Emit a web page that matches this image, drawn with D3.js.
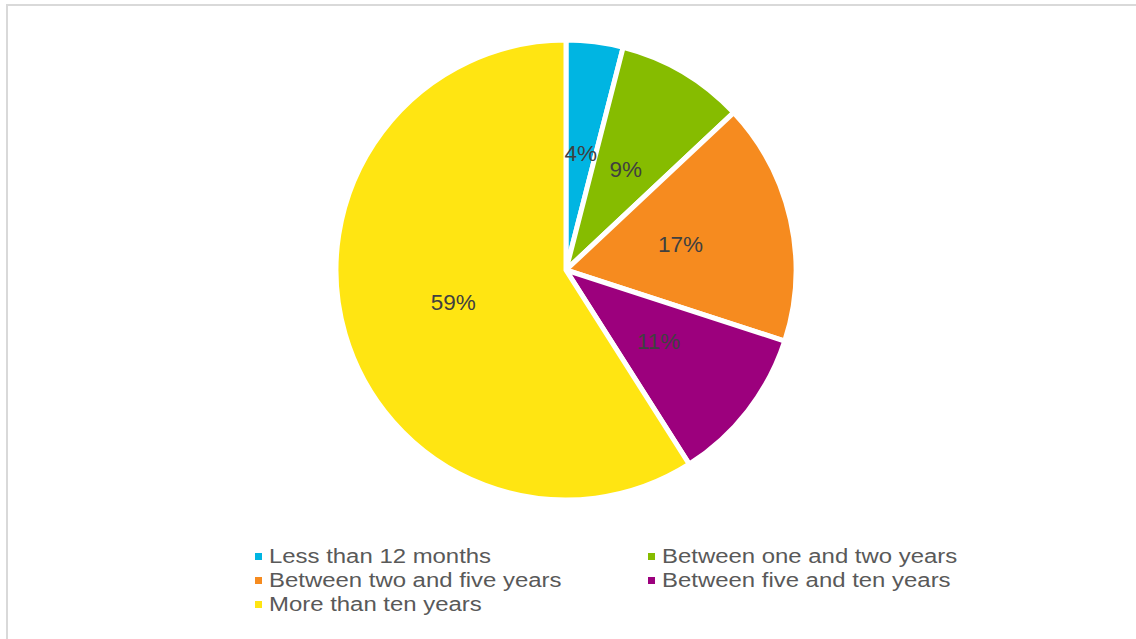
<!DOCTYPE html>
<html>
<head>
<meta charset="utf-8">
<script src="https://cdn.jsdelivr.net/npm/d3@7"></script>
<style>
  html, body { margin: 0; padding: 0; background: #fff; }
  svg { display: block; }
</style>
</head>
<body>
<svg id="chart" width="1136" height="639"></svg>
<script>
// Length of time categories and their shares (%)
const categories = [
  "Less than 12 months",
  "Between one and two years",
  "Between two and five years",
  "Between five and ten years",
  "More than ten years"
];
const values = [4, 9, 17, 11, 59];
const colors = ["#00b5e2", "#86bc00", "#f68b1f", "#9c007d", "#ffe512"];

const width = 1136, height = 639;
const svg = d3.select("#chart");

// Outer frame
svg.append("rect")
  .attr("x", 7).attr("y", 5)
  .attr("width", width).attr("height", height)
  .attr("fill", "none")
  .attr("stroke", "#d9d9d9")
  .attr("stroke-width", 2);

const cx = 566, cy = 270, r = 230;
const data = categories.map((c, i) => ({ cat: c, value: values[i], color: colors[i] }));

const pie = d3.pie().value(d => d.value).sort(null);
const arc = d3.arc().innerRadius(0).outerRadius(r);
const labelArc = d3.arc().innerRadius(r * 0.51).outerRadius(r * 0.51);

const g = svg.append("g").attr("transform", `translate(${cx},${cy})`);
const arcs = pie(data);

g.selectAll("path.slice")
  .data(arcs)
  .join("path")
  .attr("class", "slice")
  .attr("d", arc)
  .attr("fill", d => d.data.color)
  .attr("stroke", "#fff")
  .attr("stroke-width", 5)
  .attr("stroke-linejoin", "miter");

g.selectAll("text.pct")
  .data(arcs)
  .join("text")
  .attr("class", "pct")
  .attr("transform", d => `translate(${labelArc.centroid(d)})`)
  .attr("text-anchor", "middle")
  .attr("dominant-baseline", "central")
  .attr("font-family", "Liberation Sans, Arial, sans-serif")
  .attr("font-size", 22.5)
  .attr("fill", "#404040")
  .text(d => d.data.value + "%");

// Legend: two columns, filled row by row; text is set slightly wide
const legendCols = [255, 648];
const legendRows = [556, 580, 604];
const legend = svg.append("g");
data.forEach((d, i) => {
  const x = legendCols[i % 2];
  const y = legendRows[Math.floor(i / 2)];
  legend.append("rect")
    .attr("x", x).attr("y", y - 3)
    .attr("width", 7).attr("height", 7)
    .attr("fill", d.color);
  legend.append("text")
    .attr("transform", `translate(${x + 14},${y}) scale(1.14,1)`)
    .attr("dominant-baseline", "central")
    .attr("font-family", "Liberation Sans, Arial, sans-serif")
    .attr("font-size", 21)
    .attr("fill", "#595959")
    .text(d.cat);
});
</script>
</body>
</html>
